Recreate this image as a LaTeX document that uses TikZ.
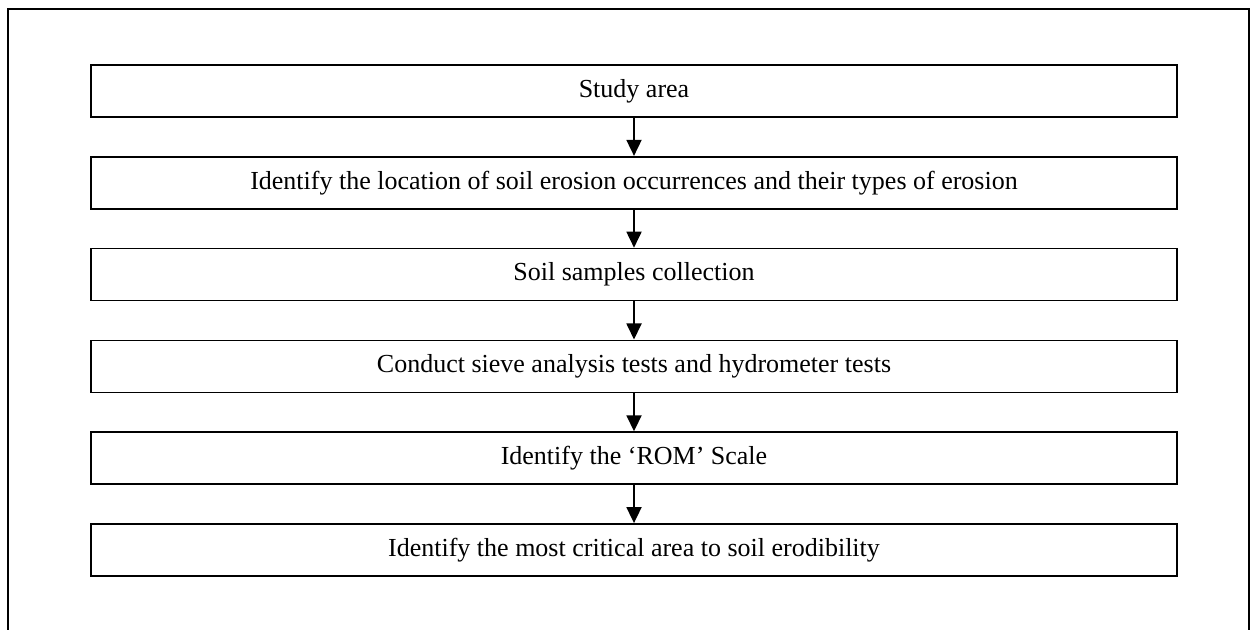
\documentclass[tikz,border=0pt]{standalone}
\usepackage{fontspec}
\setmainfont{Liberation Serif}
\usetikzlibrary{positioning,arrows.meta}

\begin{document}
\begin{tikzpicture}[x=0.5pt,y=-0.5pt,node distance=19pt,
  stepbox/.style={draw,line width=0.9pt,minimum width=543pt,minimum height=26pt,inner sep=0pt,font=\fontsize{13}{15}\selectfont},
  flow/.style={-{Triangle[length=8pt,width=7.5pt]},line width=0.9pt}]
\useasboundingbox (0,0) rectangle (1251,630);
% open frame round the chart
\draw[line width=0.9pt] (8,630) -- (8,9) -- (1249,9) -- (1249,630);
\node[stepbox] (area) at (634,91) {Study area};
\node[stepbox,below=of area] (locate) {Identify the location of soil erosion occurrences and their types of erosion};
\node[stepbox,below=of locate] (samples) {Soil samples collection};
\node[stepbox,below=of samples] (tests) {Conduct sieve analysis tests and hydrometer tests};
\node[stepbox,below=of tests] (rom) {Identify the `ROM' Scale};
\node[stepbox,below=of rom] (critical) {Identify the most critical area to soil erodibility};
\draw[flow] (area) -- (locate);
\draw[flow] (locate) -- (samples);
\draw[flow] (samples) -- (tests);
\draw[flow] (tests) -- (rom);
\draw[flow] (rom) -- (critical);
\end{tikzpicture}
\end{document}
